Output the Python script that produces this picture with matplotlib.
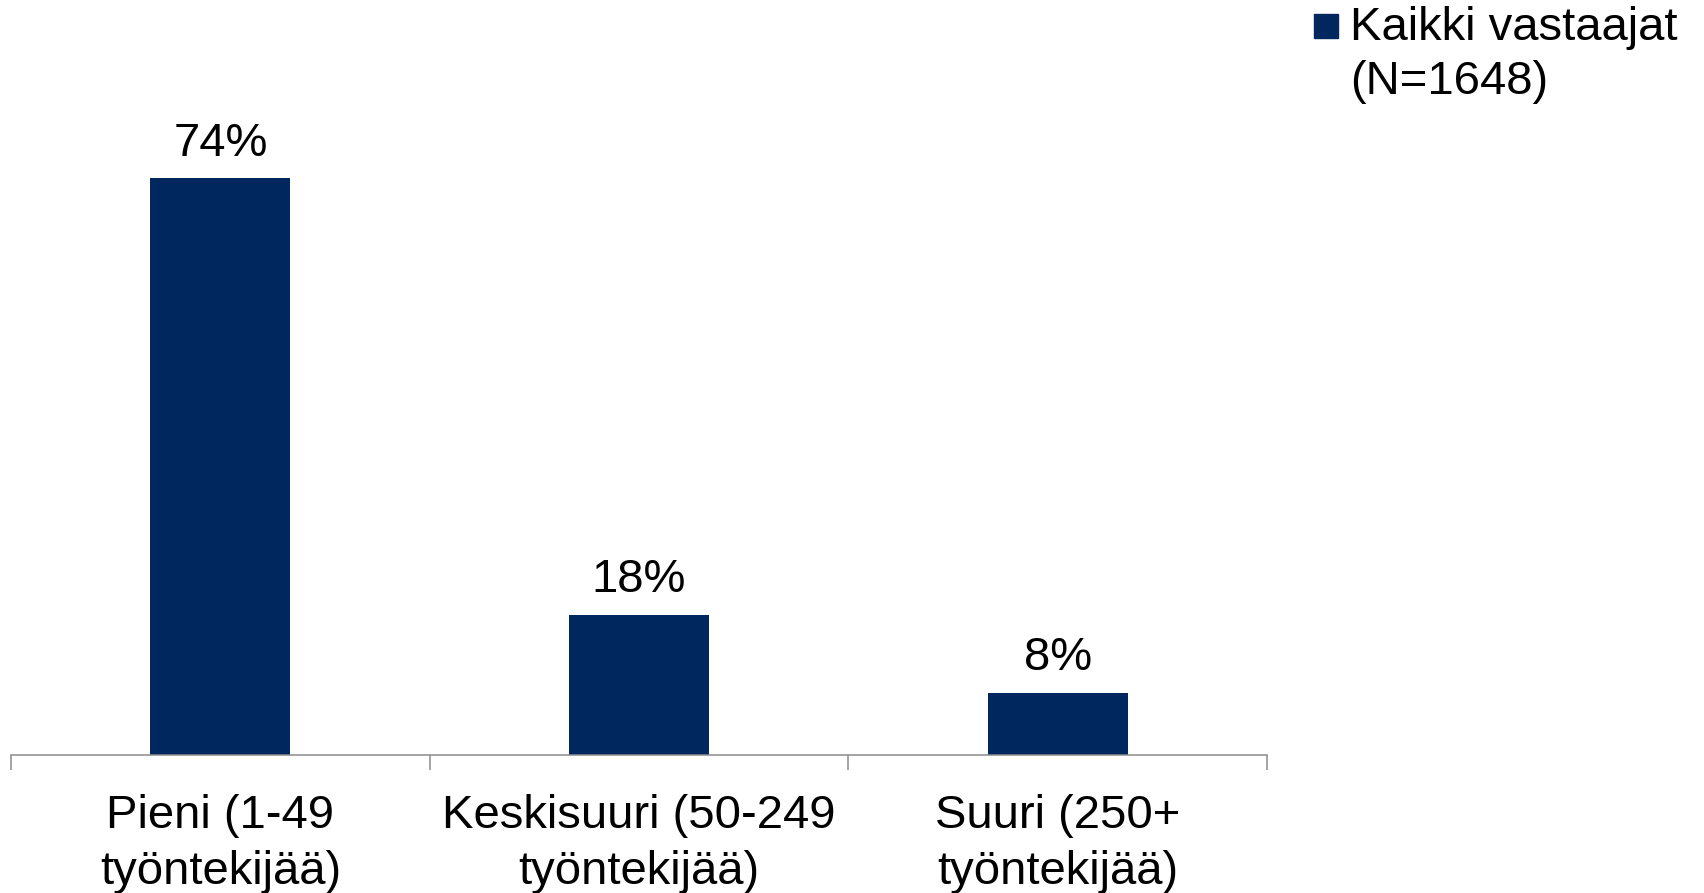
import matplotlib
matplotlib.use("Agg")
import matplotlib.pyplot as plt
from matplotlib.patches import Rectangle

# data
categories = ["Pieni (1-49\ntyöntekijää)",
              "Keskisuuri (50-249\ntyöntekijää)",
              "Suuri (250+\ntyöntekijää)"]
values = [74, 18, 8]
series_name = "Kaikki vastaajat\n(N=1648)"

BAR_COLOR = "#00285F"
AXIS_COLOR = "#8C8C8C"
FONT = ["Liberation Sans", "DejaVu Sans"]
FS = 34

plt.rcParams["font.family"] = FONT

fig = plt.figure(figsize=(17.04, 8.93), dpi=100)
ax = fig.add_axes([11 / 1704, 138 / 893, 1256 / 1704, 702 / 893])

x = range(len(categories))
bars = ax.bar(x, values, width=0.334, color=BAR_COLOR, zorder=2)

for rect, v in zip(bars, values):
    ax.annotate(f"{v}%", (rect.get_x() + rect.get_width() / 2, rect.get_height()),
                xytext=(0, 16), textcoords="offset points",
                ha="center", va="baseline", fontsize=FS, color="black")

ax.set_xlim(-0.5, len(categories) - 0.5)
ax.set_ylim(0, 90)

ax.set_xticks(list(x))
ax.set_xticklabels(categories, fontsize=FS, linespacing=1.36)
ax.set_xticks([i - 0.5 for i in range(len(categories) + 1)], minor=True)
ax.tick_params(axis="x", which="major", length=0, pad=28)
ax.tick_params(axis="x", which="minor", length=10.8, width=1.1, color=AXIS_COLOR)
ax.set_yticks([])

for side in ["top", "right", "left"]:
    ax.spines[side].set_visible(False)
ax.spines["bottom"].set_color(AXIS_COLOR)
ax.spines["bottom"].set_linewidth(1.1)

# legend drawn by hand so the marker sits beside the first line
fig.patches.append(Rectangle((1314 / 1704, 1 - 38 / 893), 24 / 1704, 24 / 893,
                             transform=fig.transFigure, color=BAR_COLOR))
fig.text(1350 / 1704, 1 - 6 / 893, series_name, fontsize=FS, va="top", ha="left",
         linespacing=1.28)

fig.savefig("out.png", dpi=100)
